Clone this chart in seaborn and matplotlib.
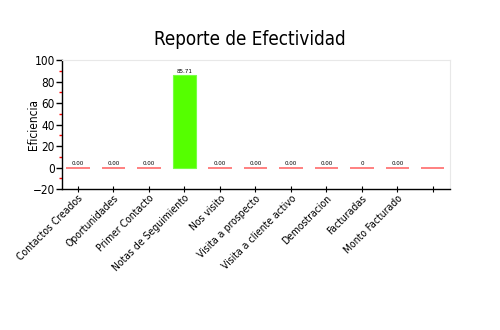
import matplotlib
matplotlib.use('Agg')
import matplotlib.pyplot as plt
import seaborn as sns
import pandas as pd
from matplotlib.ticker import MultipleLocator

categorias = ['Contactos Creados', 'Oportunidades', 'Primer Contacto',
              'Notas de Seguimiento', 'Nos visito', 'Visita a prospecto',
              'Visita a cliente activo', 'Demostracion', 'Facturadas',
              'Monto Facturado', '']
eficiencia = [0, 0, 0, 85.71, 0, 0, 0, 0, 0, 0, 0]
etiquetas = ['0.00', '0.00', '0.00', '85.71', '0.00', '0.00', '0.00',
             '0.00', '0', '0.00', '']

df = pd.DataFrame({'categoria': categorias, 'eficiencia': eficiencia})

sns.set_style('white')
plt.rcParams['font.family'] = ['DejaVu Sans']
plt.rcParams['font.stretch'] = 'condensed'
plt.rcParams['text.color'] = 'black'
plt.rcParams['axes.labelcolor'] = 'black'
plt.rcParams['xtick.color'] = 'black'
plt.rcParams['ytick.color'] = 'black'

fig = plt.figure(figsize=(5, 3.3), dpi=100)
ax = fig.add_axes([0.124, 0.427, 0.776, 0.391])

verde = '#55ff00'
rojo = '#ff6b6b'
sns.barplot(data=df, x='categoria', y='eficiencia', ax=ax, width=0.65,
            color=verde, saturation=1)

for patch, val in zip(ax.patches, eficiencia):
    if val == 0:
        patch.set_edgecolor(rojo)
        patch.set_linewidth(1.2)
    else:
        patch.set_edgecolor('#77ff44')
        patch.set_linewidth(0.8)

for patch, lab in zip(ax.patches, etiquetas):
    if lab:
        ax.text(patch.get_x() + patch.get_width() / 2,
                patch.get_height() + 1.5, lab,
                ha='center', va='bottom', fontsize=4.5)

ax.set_ylim(-20, 100)
ax.set_xlim(-0.45, 10.48)
ax.yaxis.set_major_locator(MultipleLocator(20))
ax.yaxis.set_minor_locator(MultipleLocator(10))
ax.tick_params(axis='y', which='major', length=4, width=1, color='black',
               labelsize=8.5, pad=1, direction='out', left=True)
ax.tick_params(axis='y', which='minor', length=2, width=1, color='red',
               left=True)
ax.tick_params(axis='x', which='major', length=4, width=0.8, color='black',
               labelsize=7.5, pad=1, direction='inout', bottom=True)

ax.set_xticks(range(len(categorias)))
ax.set_xticklabels(categorias, rotation=45, ha='right',
                   rotation_mode='anchor')
ax.set_xlabel('')
ax.set_ylabel('Eficiencia', fontsize=8.5)
ax.yaxis.set_label_coords(-0.057, 0.5)

for side in ['left', 'bottom']:
    ax.spines[side].set_color('black')
    ax.spines[side].set_linewidth(1)
for side in ['top', 'right']:
    ax.spines[side].set_color('#e8e8e8')
    ax.spines[side].set_linewidth(0.8)

fig.text(0.5, 0.865, 'Reporte de Efectividad', ha='center', fontsize=13.5)

fig.savefig('out.png', dpi=100)
